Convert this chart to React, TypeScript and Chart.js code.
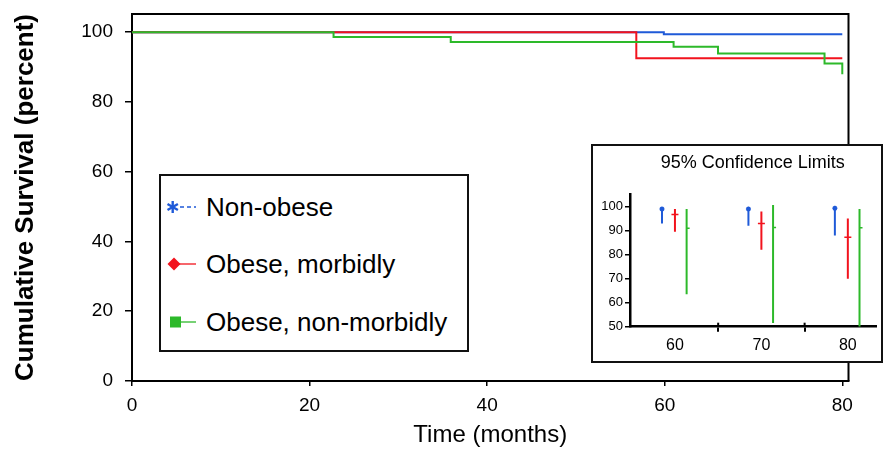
import React, { useEffect, useRef } from 'react';
import { Chart, registerables } from 'chart.js';

Chart.register(...registerables);

const FONT = '"Liberation Sans", Arial, Helvetica, sans-serif';

// Series
const seriesNames = ['Non-obese', 'Obese, morbidly', 'Obese, non-morbidly'];
const seriesColors = ['#1f5ad8', '#f2131d', '#2db92a'];

// Main Kaplan-Meier curves (time in months, survival in percent)
const nonObeseTime = [0, 59.9, 80.0];
const nonObeseSurv = [100, 99.4, 99.4];
const morbidTime = [0, 56.8, 80.0];
const morbidSurv = [100, 92.5, 92.5];
const nonMorbidTime = [0, 22.7, 35.9, 61.0, 66.0, 78.0, 80.0];
const nonMorbidSurv = [100, 98.6, 97.2, 95.8, 93.9, 91.0, 87.9];

const mainXTicks = [0, 20, 40, 60, 80];
const mainYTicks = [0, 20, 40, 60, 80, 100];

// Inset: 95% confidence limits at 60, 70, 80 months
const ciMonths = [60, 70, 80];
const ciNonObeseLow = [93, 92, 88];
const ciNonObeseHigh = [99.5, 99.5, 100.3];
const ciNonObeseEst = [99, 99, 99.3];
const ciMorbidLow = [89.5, 82, 70];
const ciMorbidHigh = [99, 98, 95];
const ciMorbidEst = [96.7, 93, 87.2];
const ciNonMorbidLow = [63.5, 51.5, 50];
const ciNonMorbidHigh = [99, 100.7, 99];
const ciNonMorbidEst = [91, 91.3, 91.2];

const insetXTicks = [60, 65, 70, 75, 80];
const insetYTicks = [50, 60, 70, 80, 90, 100];

const ciOffsets = [-1.5, 0, 1.35];

const pts = (xs: number[], ys: number[]) => xs.map((x, i) => ({ x, y: ys[i] }));

const bars = (off: number, lo: number[], hi: number[]) =>
  ciMonths.flatMap((m, i) => [
    { x: m + off, y: lo[i] },
    { x: m + off, y: hi[i] },
    { x: m + off, y: null as any },
  ]);

const ests = (off: number, est: number[]) => ciMonths.map((m, i) => ({ x: m + off, y: est[i] }));

const framePlugin = {
  id: 'frame',
  afterDatasetsDraw(chart: any) {
    const { ctx, chartArea: a } = chart;
    ctx.save();
    ctx.strokeStyle = '#000';
    ctx.lineWidth = 2;
    ctx.beginPath();
    ctx.moveTo(a.left, a.top);
    ctx.lineTo(a.right, a.top);
    ctx.lineTo(a.right, a.bottom);
    ctx.stroke();
    ctx.restore();
  },
};

const crossTicksPlugin = {
  id: 'crossTicks',
  afterDraw(chart: any) {
    const { ctx, chartArea: a, scales } = chart;
    ctx.save();
    ctx.strokeStyle = '#000';
    ctx.lineWidth = 2;
    insetXTicks
      .filter((v) => v % 10 !== 0)
      .forEach((v) => {
        const px = scales.x.getPixelForValue(v);
        ctx.beginPath();
        ctx.moveTo(px, a.bottom - 4);
        ctx.lineTo(px, a.bottom);
        ctx.stroke();
      });
    ctx.restore();
  },
};

export default function App() {
  const mainRef = useRef<HTMLCanvasElement>(null);
  const insetRef = useRef<HTMLCanvasElement>(null);

  useEffect(() => {
    document.body.style.margin = '0';
    const main = new Chart(mainRef.current as HTMLCanvasElement, {
      type: 'line',
      data: {
        datasets: [
          {
            label: seriesNames[0],
            data: pts(nonObeseTime, nonObeseSurv),
            borderColor: seriesColors[0],
            borderWidth: 2,
            stepped: 'before',
            pointRadius: 0,
            fill: false,
            order: 3,
          },
          {
            label: seriesNames[1],
            data: pts(morbidTime, morbidSurv),
            borderColor: seriesColors[1],
            borderWidth: 2,
            stepped: 'before',
            pointRadius: 0,
            fill: false,
            order: 2,
          },
          {
            label: seriesNames[2],
            data: pts(nonMorbidTime, nonMorbidSurv),
            borderColor: seriesColors[2],
            borderWidth: 2,
            stepped: 'before',
            pointRadius: 0,
            fill: false,
            order: 1,
          },
        ],
      },
      options: {
        responsive: false,
        animation: false,
        layout: { padding: { top: 14, right: 43.5, left: 0, bottom: 0 } },
        plugins: { legend: { display: false }, tooltip: { enabled: false }, title: { display: false } },
        scales: {
          x: {
            type: 'linear',
            min: 0,
            max: 80.7,
            afterBuildTicks: (s: any) => {
              s.ticks = mainXTicks.map((v) => ({ value: v }));
            },
            afterFit: (s: any) => {
              s.height = 72;
              s.paddingLeft = 0;
              s.paddingRight = 0;
            },
            ticks: { color: '#000', font: { family: FONT, size: 19 }, padding: 8, maxRotation: 0 },
            grid: { drawOnChartArea: false, tickLength: 5, color: '#000', lineWidth: 1.5 },
            border: { display: true, color: '#000', width: 2 },
            title: {
              display: true,
              text: 'Time (months)',
              color: '#000',
              font: { family: FONT, size: 24 },
              padding: { top: 0, bottom: 3 },
            },
          },
          y: {
            type: 'linear',
            min: 0,
            max: 105.2,
            afterBuildTicks: (s: any) => {
              s.ticks = mainYTicks.map((v) => ({ value: v }));
            },
            afterFit: (s: any) => {
              s.width = 132;
              s.paddingTop = 0;
              s.paddingBottom = 0;
            },
            ticks: { color: '#000', font: { family: FONT, size: 19 }, padding: 12 },
            grid: { drawOnChartArea: false, tickLength: 7, color: '#000', lineWidth: 1.5 },
            border: { display: true, color: '#000', width: 2 },
            title: {
              display: true,
              text: 'Cumulative Survival (percent)',
              color: '#000',
              font: { family: FONT, size: 26, weight: 'bold' },
              padding: { top: 10, bottom: 0 },
            },
          },
        },
      } as any,
      plugins: [framePlugin],
    });

    const insetDatasets: any[] = [];
    const lows = [ciNonObeseLow, ciMorbidLow, ciNonMorbidLow];
    const highs = [ciNonObeseHigh, ciMorbidHigh, ciNonMorbidHigh];
    const estimates = [ciNonObeseEst, ciMorbidEst, ciNonMorbidEst];
    const estStyles = ['star', 'line', 'dash'];
    const estRadius = [2.5, 3.5, 3];
    seriesNames.forEach((name, k) => {
      insetDatasets.push({
        label: name + ' CI',
        data: bars(ciOffsets[k], lows[k], highs[k]),
        borderColor: seriesColors[k],
        borderWidth: 2,
        pointRadius: 0,
        spanGaps: false,
        fill: false,
      });
      insetDatasets.push({
        label: name + ' estimate',
        data: ests(ciOffsets[k], estimates[k]),
        showLine: false,
        pointStyle: estStyles[k],
        pointRadius: estRadius[k],
        pointBorderWidth: 1.5,
        pointBorderColor: seriesColors[k],
        pointBackgroundColor: seriesColors[k],
      });
    });

    const inset = new Chart(insetRef.current as HTMLCanvasElement, {
      type: 'line',
      data: { datasets: insetDatasets },
      options: {
        responsive: false,
        animation: false,
        layout: { padding: 0 },
        plugins: {
          legend: { display: false },
          tooltip: { enabled: false },
          title: {
            display: true,
            text: '95% Confidence Limits',
            fullSize: false,
            color: '#000',
            font: { family: FONT, size: 18, weight: 'normal' },
            padding: { top: 6, bottom: 21 },
          },
        },
        scales: {
          x: {
            type: 'linear',
            min: 54.8,
            max: 83.2,
            afterBuildTicks: (s: any) => {
              s.ticks = insetXTicks.map((v) => ({ value: v }));
            },
            afterFit: (s: any) => {
              s.height = 34.3;
            },
            ticks: {
              color: '#000',
              font: { family: FONT, size: 16 },
              padding: 4,
              maxRotation: 0,
              autoSkip: false,
              callback: (v: any) => (Number(v) % 10 === 0 ? String(v) : ''),
            },
            grid: {
              drawOnChartArea: false,
              tickLength: 5,
              lineWidth: 2,
              color: (c: any) => (c.tick && c.tick.value % 10 !== 0 ? '#000' : 'rgba(0,0,0,0)'),
            },
            border: { display: true, color: '#000', width: 2.5 },
          },
          y: {
            type: 'linear',
            min: 50,
            max: 105,
            afterBuildTicks: (s: any) => {
              s.ticks = insetYTicks.map((v) => ({ value: v }));
            },
            afterFit: (s: any) => {
              s.width = 37;
            },
            ticks: { color: '#000', font: { family: FONT, size: 13 }, padding: 2 },
            grid: { drawOnChartArea: false, tickLength: 5, color: '#000', lineWidth: 1.5 },
            border: { display: true, color: '#000', width: 2.5 },
          },
        },
      } as any,
      plugins: [crossTicksPlugin],
    });

    return () => {
      main.destroy();
      inset.destroy();
    };
  }, []);

  const legendText: React.CSSProperties = {
    position: 'absolute',
    left: 206,
    fontFamily: FONT,
    fontSize: 26,
    lineHeight: '30px',
    color: '#000',
    whiteSpace: 'nowrap',
  };
  const rowCenters = [207, 264, 322];

  return (
    <div style={{ position: 'relative', width: 892, height: 453, overflow: 'hidden', background: '#fff' }}>
      <canvas ref={mainRef} width={892} height={453} style={{ position: 'absolute', left: 0, top: 0 }} />
      <div
        style={{
          position: 'absolute',
          left: 159,
          top: 174,
          width: 310,
          height: 178,
          boxSizing: 'border-box',
          border: '2px solid #111',
          background: '#fff',
        }}
      />
      <svg
        width={40}
        height={180}
        style={{ position: 'absolute', left: 162, top: 174 }}
        viewBox="0 0 40 180"
      >
        {/* Non-obese: asterisk with dashed line */}
        <g transform={`translate(10.7 ${rowCenters[0] - 174})`}>
          <line x1={0} y1={-6} x2={0} y2={6} stroke={seriesColors[0]} strokeWidth={2.4} />
          <line x1={-5.2} y1={-3} x2={5.2} y2={3} stroke={seriesColors[0]} strokeWidth={2.4} />
          <line x1={-5.2} y1={3} x2={5.2} y2={-3} stroke={seriesColors[0]} strokeWidth={2.4} />
        </g>
        <line
          x1={18}
          y1={rowCenters[0] - 174}
          x2={34}
          y2={rowCenters[0] - 174}
          stroke={seriesColors[0]}
          strokeWidth={1.3}
          strokeDasharray="4 3"
        />
        {/* Obese, morbidly: diamond */}
        <line x1={12} y1={rowCenters[1] - 174} x2={34} y2={rowCenters[1] - 174} stroke={seriesColors[1]} strokeWidth={1.3} />
        <polygon
          points={`12,${rowCenters[1] - 174 - 6.5} 18.5,${rowCenters[1] - 174} 12,${rowCenters[1] - 174 + 6.5} 5.5,${rowCenters[1] - 174}`}
          fill={seriesColors[1]}
        />
        {/* Obese, non-morbidly: square */}
        <line x1={13} y1={rowCenters[2] - 174} x2={34} y2={rowCenters[2] - 174} stroke={seriesColors[2]} strokeWidth={1.3} />
        <rect x={8} y={rowCenters[2] - 174 - 5.5} width={11} height={11} fill={seriesColors[2]} />
      </svg>
      {seriesNames.map((n, i) => (
        <div key={n} style={{ ...legendText, top: rowCenters[i] - 15 }}>
          {n}
        </div>
      ))}
      <div
        style={{
          position: 'absolute',
          left: 591,
          top: 144,
          width: 292,
          height: 219,
          boxSizing: 'border-box',
          border: '2px solid #111',
          background: '#fff',
        }}
      >
        <canvas ref={insetRef} width={288} height={215} style={{ display: 'block' }} />
      </div>
    </div>
  );
}
